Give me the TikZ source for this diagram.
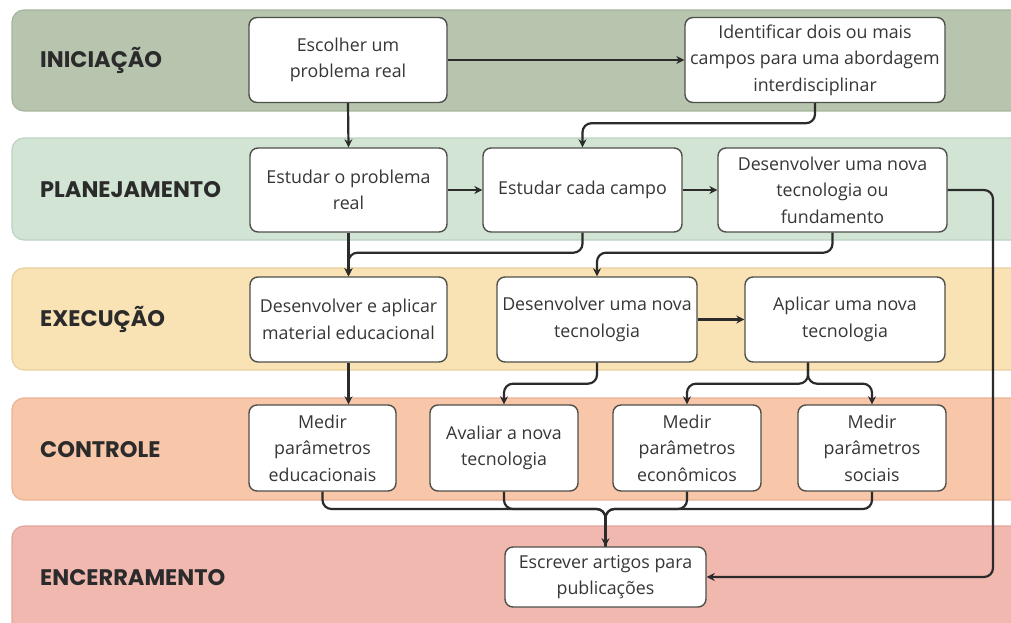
\documentclass[tikz,border=0pt]{standalone}
\usepackage{fontspec}
\setmainfont{Open Sans}
\newfontfamily\phasefont{Poppins}
\usetikzlibrary{arrows.meta}

\definecolor{bandA}{HTML}{B7C5AF}
\definecolor{bandAline}{HTML}{A6B59E}
\definecolor{bandB}{HTML}{D2E5D5}
\definecolor{bandBline}{HTML}{BDD2C1}
\definecolor{bandC}{HTML}{F9E2B4}
\definecolor{bandCline}{HTML}{E9D09F}
\definecolor{bandD}{HTML}{F8C6A8}
\definecolor{bandDline}{HTML}{E9B396}
\definecolor{bandE}{HTML}{F1B8AF}
\definecolor{bandEline}{HTML}{E1A69D}
\definecolor{ink}{HTML}{2B2B2B}
\definecolor{boxline}{HTML}{4F4F4A}
\definecolor{boxtext}{HTML}{363636}

\begin{document}
\begin{tikzpicture}[x=1pt,y=-1pt,
  band/.style={rounded corners=12pt, line width=1.2pt},
  phase/.style={anchor=west, font=\phasefont\bfseries\fontsize{22.5}{26}\selectfont, text=ink, inner sep=0pt},
  task/.style={draw=boxline, line width=1.4pt, fill=white, rounded corners=8pt, align=center,
               font=\fontsize{17.8}{26.5}\selectfont, text=boxtext, inner sep=2pt},
  flow/.style={draw=ink, line width=2.2pt, rounded corners=9pt, -{Stealth[length=8pt,width=8pt]}},
  link/.style={draw=ink, line width=2.2pt, rounded corners=9pt},
]
\useasboundingbox (0,0) rectangle (1011,623);
\clip (0,0) rectangle (1011,623);
\fill[white] (0,0) rectangle (1011,623);

% phase bands
\draw[band, fill=bandA, draw=bandAline] (12,10)  rectangle (1030,111);
\draw[band, fill=bandB, draw=bandBline] (12,138) rectangle (1030,240);
\draw[band, fill=bandC, draw=bandCline] (12,268) rectangle (1030,370);
\draw[band, fill=bandD, draw=bandDline] (12,398) rectangle (1030,500);
\draw[band, fill=bandE, draw=bandEline] (12,526) rectangle (1030,640);

% phase names
\node[phase] (pA) at (40,60)  {INICIAÇÃO};
\node[phase] (pB) at (40,190) {PLANEJAMENTO};
\node[phase] (pC) at (40,319) {EXECUÇÃO};
\node[phase] (pD) at (40,450) {CONTROLE};
\node[phase] (pE) at (40,578) {ENCERRAMENTO};

% tasks
\node[task, minimum width=198pt, minimum height=85pt] (esc) at (348,60)   {Escolher um\\problema real};
\node[task, minimum width=260pt, minimum height=85pt] (ide) at (815,60)   {Identificar dois ou mais\\campos para uma abordagem\\interdisciplinar};

\node[task, minimum width=197pt, minimum height=84pt] (est) at (348.5,190) {Estudar o problema\\real};
\node[task, minimum width=199pt, minimum height=84pt] (cam) at (582.5,190) {Estudar cada campo};
\node[task, minimum width=229pt, minimum height=84pt] (dnf) at (832.5,190) {Desenvolver uma nova\\tecnologia ou\\fundamento};

\node[task, minimum width=197pt, minimum height=85pt] (dam) at (348.5,319.5) {Desenvolver e aplicar\\material educacional};
\node[task, minimum width=200pt, minimum height=85pt] (dnt) at (597,319.5)   {Desenvolver uma nova\\tecnologia};
\node[task, minimum width=200pt, minimum height=85pt] (apl) at (845,319.5)   {Aplicar uma nova\\tecnologia};

\node[task, minimum width=147pt, minimum height=86pt] (mpe) at (322.5,448) {Medir\\parâmetros\\educacionais};
\node[task, minimum width=148pt, minimum height=86pt] (ava) at (504,448)   {Avaliar a nova\\tecnologia};
\node[task, minimum width=148pt, minimum height=86pt] (mec) at (687,448)   {Medir\\parâmetros\\econômicos};
\node[task, minimum width=148pt, minimum height=86pt] (mso) at (872,448)   {Medir\\parâmetros\\sociais};

\node[task, minimum width=201pt, minimum height=60pt] (art) at (605.5,577) {Escrever artigos para\\publicações};

% connectors
\draw[flow] (esc.east) -- (ide.west);
\draw[flow] (esc.south) -- (est.north);
\draw[flow] (ide.south) -- ++(0,20) -| (cam.north);

\draw[flow] (est.east) -- (cam.west);
\draw[flow] (cam.east) -- (dnf.west);
\coordinate (rt) at (993,190);
\draw[flow] (dnf.east) -- (rt) |- (art.east);

\draw[flow] (est.south) -- (dam.north);
\draw[flow] (cam.south) -- ++(0,20) -| (dam.north);
\draw[flow] (dnf.south) -- ++(0,20) -| (dnt.north);

\draw[flow] (dam.south) -- (dam.south |- mpe.north);
\draw[flow] (dnt.east) -- (apl.west);
\draw[flow] (dnt.south) -- ++(0,21) -| (ava.north);
\draw[flow] ([xshift=-37pt]apl.south) -- ++(0,21) -| (mec.north);
\draw[flow] ([xshift=-37pt]apl.south) -- ++(0,21) -| (mso.north);

\coordinate (jc) at (605.5,509);
\draw[link] (mpe.south) |- (jc) -- (art.north);
\draw[link] (ava.south) |- (jc) -- (art.north);
\draw[link] (mec.south) |- (jc) -- (art.north);
\draw[flow] (mso.south) |- (jc) -- (art.north);
\end{tikzpicture}
\end{document}
